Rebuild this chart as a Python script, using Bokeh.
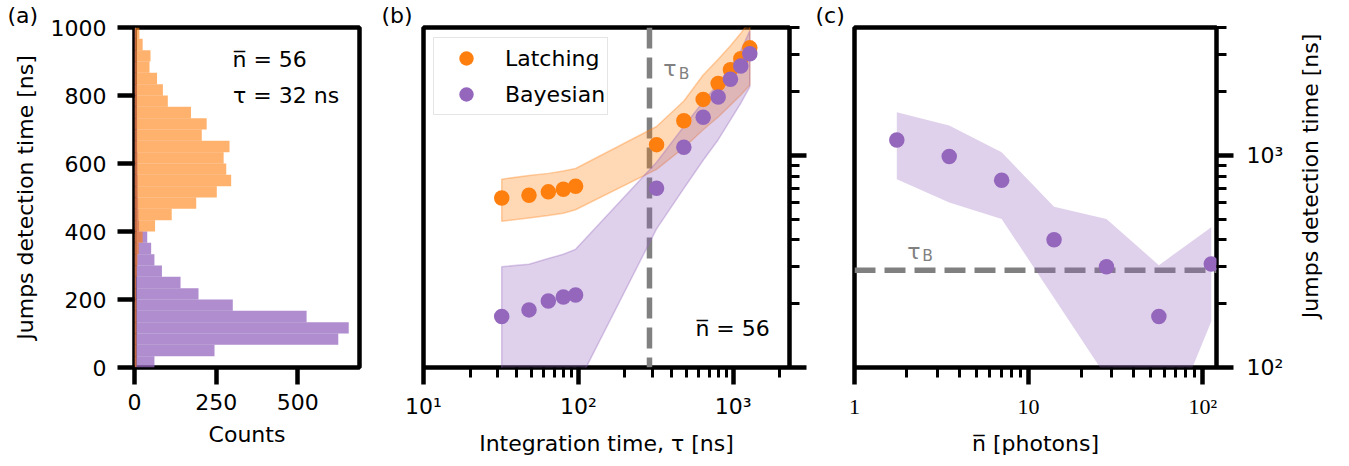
import numpy as np
from math import pi
from bokeh.plotting import figure
from bokeh.models import (Range1d, FixedTicker, Span, Label, Legend, LegendItem,
                          CustomJSTickFormatter)
from bokeh.layouts import row
from bokeh.embed import file_html
from bokeh.resources import INLINE

# ---------------- data ----------------
# (a) histograms of detection times (tau = 32 ns, nbar = 56)
bin_edges = list(np.linspace(0, 1000, 31))
bayes_counts = [61, 245, 624, 656, 527, 301, 196, 141, 84, 61, 51, 39, 14, 12, 11,
                10, 10, 9, 9, 8, 8, 8, 7, 7, 7, 6, 6, 6, 5, 5]
latch_counts = [6, 6, 6, 6, 6, 6, 5, 5, 7, 9, 13, 25, 63, 114, 189, 252, 296, 281,
                273, 291, 206, 221, 173, 102, 87, 69, 46, 49, 25, 15]

# (b) detection time vs integration time
tau = [32, 48, 64, 80, 96, 320, 480, 640, 800, 960, 1120, 1280]
latch_mean = [630, 650, 674, 693, 716, 1126, 1458, 1841, 2188, 2543, 2861, 3222]
latch_lo = [490, 508, 521, 534, 555, 860, 1090, 1323, 1520, 1730, 1930, 2150]
latch_hi = [773, 806, 824, 845, 869, 1371, 1810, 2400, 2850, 3300, 3780, 4300]
bayes_mean = [174, 187, 206, 215, 220, 701, 1094, 1517, 1888, 2291, 2643, 3020]
bayes_lo = [41, 45, 52, 62, 80, 451, 700, 950, 1188, 1473, 1766, 2109]
bayes_hi = [299, 307, 327, 342, 361, 930, 1371, 1795, 2188, 2612, 3126, 3881]
tau_B = 288

# (c) detection time vs photon number
nbar = [1.75, 3.5, 7, 14, 28, 56, 112]
c_mean = [1184, 989, 764, 401, 299, 174, 308]
c_hi = [1600, 1386, 1036, 573, 502, 304, 459]
c_lo = [773, 601, 502, 213, 90, 41, 165]

# ---------------- style ----------------
FONT = "DejaVu Sans"
FS = "22px"
ORANGE = "#ff7f0e"
PURPLE = "#9467bd"
GRAY = "#808080"
MS = 15.5


def style_fig(p, offset):
    p.grid.visible = False
    p.outline_line_color = "black"
    p.outline_line_width = 4.5
    p.outline_line_alpha = 1.0
    p.background_fill_color = "white"
    p.border_fill_color = "white"
    p.title.align = "left"
    p.title.offset = offset
    p.title.standoff = 0
    p.title.text_font = FONT
    p.title.text_font_size = FS
    p.title.text_font_style = "normal"
    p.title.text_color = "black"


def style_axis(ax):
    ax.axis_line_color = None
    ax.major_tick_line_color = "black"
    ax.major_tick_line_width = 4.5
    ax.major_tick_out = 17
    ax.major_tick_in = 0
    ax.minor_tick_line_color = "black"
    ax.minor_tick_line_width = 3
    ax.minor_tick_out = 10
    ax.minor_tick_in = 0
    ax.major_label_text_font = FONT
    ax.major_label_text_font_size = FS
    ax.major_label_text_color = "black"
    ax.axis_label_text_font = FONT
    ax.axis_label_text_font_size = FS
    ax.axis_label_text_font_style = "normal"
    ax.axis_label_text_color = "black"
    ax.major_label_standoff = 9
    ax.axis_label_standoff = 9


pow_fmt = CustomJSTickFormatter(code="""
const sup = {'0':'\u2070','1':'\u00b9','2':'\u00b2','3':'\u00b3','4':'\u2074'};
const e = Math.round(Math.log10(tick));
return '10' + sup[String(e)];
""")

nbar_fmt = CustomJSTickFormatter(code="""
const e = Math.round(Math.log10(tick));
if (e == 0) return '1';
if (e == 1) return '10';
return '10\u00b2';
""")

empty_fmt = CustomJSTickFormatter(code="return '';")

y_major = [100, 1000]
y_minor = [200, 300, 400, 500, 600, 700, 800, 900, 2000, 3000, 4000]


def text_label(x, y, text, size=FS, color="black", **kw):
    return Label(x=x, y=y, text=text, text_font=FONT, text_font_size=size,
                 text_color=color, text_baseline="alphabetic", text_align="left", **kw)


# ---------------- (a) ----------------
pa = figure(width=375, height=458, x_range=Range1d(0, 689), y_range=Range1d(0, 1000),
            title="(a)", output_backend="svg", toolbar_location=None,
            min_border_left=134, min_border_right=16, min_border_top=27, min_border_bottom=87)
style_fig(pa, -127)
pa.quad(left=0, right=bayes_counts, bottom=bin_edges[:-1], top=bin_edges[1:],
        fill_color=PURPLE, fill_alpha=0.75, line_color=None)
pa.quad(left=0, right=latch_counts, bottom=bin_edges[:-1], top=bin_edges[1:],
        fill_color=ORANGE, fill_alpha=0.6, line_color=None)
for ax in (pa.xaxis[0], pa.yaxis[0]):
    style_axis(ax)
pa.xaxis.ticker = FixedTicker(ticks=[0, 250, 500])
pa.yaxis.ticker = FixedTicker(ticks=[0, 200, 400, 600, 800, 1000])
pa.yaxis.major_label_standoff = 11
pa.yaxis.axis_label_standoff = 10
pa.xaxis.axis_label = "Counts"
pa.yaxis.axis_label = "Jumps detection time [ns]"
pa.add_layout(text_label(300, 906, "n\u0305 = 56"))
pa.add_layout(text_label(302, 799, "\u03c4 = 32 ns"))

# ---------------- (b) ----------------
pb = figure(width=435, height=458, x_axis_type="log", y_axis_type="log",
            x_range=Range1d(10, 2310), y_range=Range1d(100, 4020), y_axis_location="right",
            title="(b)", output_backend="svg", toolbar_location=None,
            min_border_left=48, min_border_right=21, min_border_top=27, min_border_bottom=87)
style_fig(pb, -42)
pb.add_layout(Span(location=tau_B, dimension="height", line_color=GRAY, line_width=5.5,
                   line_dash="21 9", level="underlay"))
pb.patch(x=tau + tau[::-1], y=latch_hi + latch_lo[::-1], fill_color=ORANGE, fill_alpha=0.3,
         line_color=ORANGE, line_alpha=0.35, line_width=1.5)
pb.patch(x=tau + tau[::-1], y=bayes_hi + bayes_lo[::-1], fill_color=PURPLE, fill_alpha=0.3,
         line_color=PURPLE, line_alpha=0.35, line_width=1.5)
r_l = pb.scatter(tau, latch_mean, size=MS, fill_color=ORANGE, line_color=None)
r_b = pb.scatter(tau, bayes_mean, size=MS, fill_color=PURPLE, line_color=None)
for ax in (pb.xaxis[0], pb.yaxis[0]):
    style_axis(ax)
pb.xaxis.ticker = FixedTicker(ticks=[10, 100, 1000],
                              minor_ticks=[20, 30, 40, 50, 60, 70, 80, 90,
                                           200, 300, 400, 500, 600, 700, 800, 900, 2000])
pb.xaxis.formatter = pow_fmt
pb.xaxis.axis_label = "Integration time, \u03c4 [ns]"
pb.yaxis.ticker = FixedTicker(ticks=y_major, minor_ticks=y_minor)
pb.yaxis.formatter = empty_fmt
pb.yaxis.major_label_standoff = 0
legend = Legend(items=[LegendItem(label="Latching", renderers=[r_l]),
                       LegendItem(label="Bayesian", renderers=[r_b])],
                location="top_left", margin=10, padding=2, spacing=0,
                glyph_width=60, glyph_height=36, label_height=25, label_standoff=9,
                label_text_font=FONT, label_text_font_size=FS, label_text_color="black",
                border_line_color="#cccccc", border_line_width=1.5,
                background_fill_color="white", background_fill_alpha=0.8)
pb.add_layout(legend)
pb.add_layout(text_label(354, 2576, "\u03c4", color=GRAY))
pb.add_layout(text_label(445, 2433, "B", size="15.5px", color=GRAY))
pb.add_layout(text_label(570, 152.6, "n\u0305 = 56"))

# ---------------- (c) ----------------
pc = figure(width=481, height=458, x_axis_type="log", y_axis_type="log",
            x_range=Range1d(1, 120), y_range=Range1d(100, 4020), y_axis_location="right",
            title="(c)", output_backend="svg", toolbar_location=None,
            min_border_left=44, min_border_right=75, min_border_top=27, min_border_bottom=87)
style_fig(pc, -39)
pc.add_layout(Span(location=tau_B, dimension="width", line_color=GRAY, line_width=5.5,
                   line_dash="21 9", level="underlay"))
pc.patch(x=nbar + nbar[::-1], y=c_hi + c_lo[::-1], fill_color=PURPLE, fill_alpha=0.3,
         line_color=None)
pc.scatter(nbar, c_mean, size=MS, fill_color=PURPLE, line_color=None)
for ax in (pc.xaxis[0], pc.yaxis[0]):
    style_axis(ax)
pc.xaxis.ticker = FixedTicker(ticks=[1, 10, 100],
                              minor_ticks=[2, 3, 4, 5, 6, 7, 8, 9, 20, 30, 40, 50, 60, 70, 80, 90])
pc.xaxis.formatter = nbar_fmt
pc.xaxis.major_label_text_font = "Liberation Serif"
pc.xaxis.axis_label = "n\u0305 [photons]"
pc.yaxis.ticker = FixedTicker(ticks=y_major, minor_ticks=y_minor)
pc.yaxis.formatter = pow_fmt
pc.yaxis.major_label_standoff = 13
pc.add_layout(text_label(2.01, 352, "\u03c4", color=GRAY))
pc.add_layout(text_label(2.45, 337, "B", size="15.5px", color=GRAY))

# ---------------- right-hand axis title of (c) ----------------
pl = figure(width=50, height=458, x_range=Range1d(0, 1), y_range=Range1d(0, 1),
            x_axis_type=None, y_axis_type=None, output_backend="svg", toolbar_location=None,
            min_border=0)
pl.grid.visible = False
pl.outline_line_color = None
pl.add_layout(Label(x=0.38, y=0.5633, text="Jumps detection time [ns]", angle=pi / 2,
                    text_font=FONT, text_font_size=FS, text_color="black",
                    text_align="center", text_baseline="middle"))

layout = row(pa, pb, pc, pl)
open("out.html", "w").write(file_html(layout, INLINE))
